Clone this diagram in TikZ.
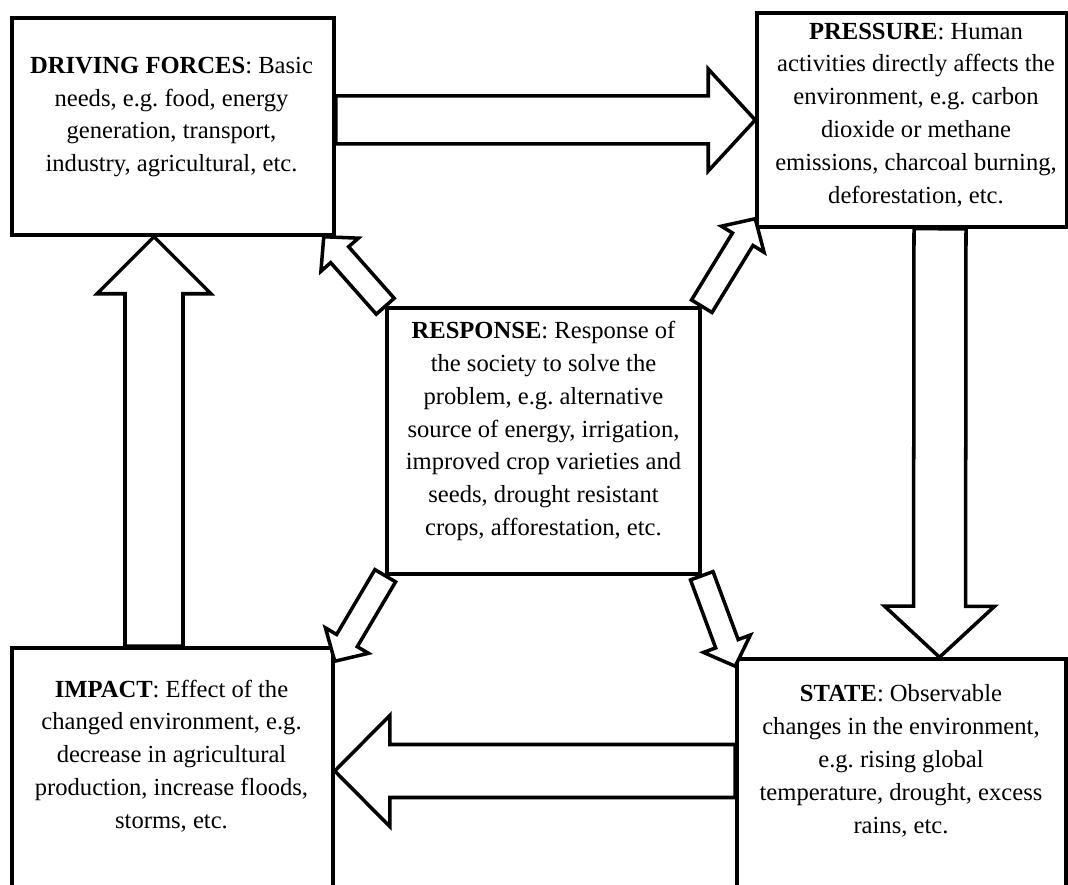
\documentclass[tikz,border=0pt]{standalone}
\usepackage{fontspec}
\setmainfont{Liberation Serif}
\usetikzlibrary{calc}
\frenchspacing

% hollow block arrow: start, end, shaft half-width, head half-width, head length
\newcommand{\blockarrow}[5]{%
  \path #1 coordinate (ba-s) #2 coordinate (ba-e);
  \coordinate (ba-h) at ($(ba-e)!#5!(ba-s)$);
  \draw[blockline] ($(ba-s)!#3!90:(ba-e)$) -- ($(ba-h)!#3!-90:(ba-s)$)
    -- ($(ba-h)!#4!-90:(ba-s)$) -- (ba-e) -- ($(ba-h)!#4!90:(ba-s)$)
    -- ($(ba-h)!#3!90:(ba-s)$) -- ($(ba-s)!#3!-90:(ba-e)$) -- cycle;
}

\begin{document}
\begin{tikzpicture}[x=1cm,y=1cm,
  box/.style={draw, line width=2pt, fill=white, inner sep=0pt},
  txt/.style={align=center, inner sep=0pt, font=\fontsize{14}{18.7}\selectfont},
  blockline/.style={draw, line width=2pt, fill=white, line join=miter}]
\useasboundingbox (0,0) rectangle (21.36,17.7);
\clip (0,0) rectangle (21.36,17.7);

% the five boxes
\node[box, minimum width=6.44cm, minimum height=4.34cm] (drive) at (3.46,15.17) {};
\node[box, minimum width=6.20cm, minimum height=4.28cm] (press) at (18.24,15.30) {};
\node[box, minimum width=6.26cm, minimum height=5.32cm] (resp) at (10.87,8.88) {};
\node[box, minimum width=6.42cm, minimum height=5.24cm] (impact) at (3.45,2.12) {};
\node[box, minimum width=6.58cm, minimum height=5.02cm] (state) at (18.03,2.01) {};

\node[txt] (drive-t) at (3.43,15.36) {\textbf{DRIVING FORCES}: Basic\\ needs, e.g. food, energy\\ generation, transport,\\ industry, agricultural, etc.};
\node[txt] (press-t) at (18.32,15.40) {\textbf{PRESSURE}: Human\\ activities directly affects the\\ environment, e.g. carbon\\ dioxide or methane\\ emissions, charcoal burning,\\ deforestation, etc.};
\node[txt] (resp-t) at (10.87,9.08) {\textbf{RESPONSE}: Response of\\ the society to solve the\\ problem, e.g. alternative\\ source of energy, irrigation,\\ improved crop varieties and\\ seeds, drought resistant\\ crops, afforestation, etc.};
\node[txt] (impact-t) at (3.43,2.58) {\textbf{IMPACT}: Effect of the\\ changed environment, e.g.\\ decrease in agricultural\\ production, increase floods,\\ storms, etc.};
\node[txt] (state-t) at (18.02,2.48) {\textbf{STATE}: Observable\\ changes in the environment,\\ e.g. rising global\\ temperature, drought, excess\\ rains, etc.};

% cycle arrows
\blockarrow{(drive.east |- press.west)}{(press.west)}{0.48cm}{1.02cm}{0.94cm}
\blockarrow{([xshift=0.56cm]press.south)}{([xshift=0.76cm]state.north)}{0.52cm}{1.1cm}{1.02cm}
\blockarrow{([yshift=0.27cm]state.west)}{([yshift=0.16cm]impact.east)}{0.53cm}{1.11cm}{1.1cm}
\blockarrow{([xshift=-0.37cm]impact.north)}{([xshift=-0.38cm]drive.south)}{0.58cm}{1.14cm}{1.14cm}

% response arrows
\blockarrow{(resp.north west)}{([xshift=-0.24cm]drive.south east)}{0.24cm}{0.5cm}{0.48cm}
\blockarrow{(resp.north east)}{([yshift=0.2cm]press.south west)}{0.24cm}{0.5cm}{0.48cm}
\blockarrow{(resp.south west)}{([yshift=-0.3cm]impact.north east)}{0.24cm}{0.5cm}{0.48cm}
\blockarrow{(resp.south east)}{([yshift=-0.18cm]state.north west)}{0.24cm}{0.5cm}{0.48cm}
\end{tikzpicture}
\end{document}
